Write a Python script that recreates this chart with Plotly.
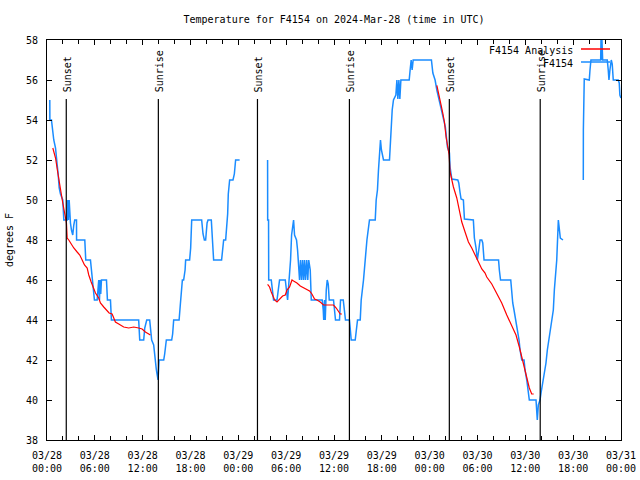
import pandas as pd
import plotly.graph_objects as go

START = pd.Timestamp("2024-03-28 00:00")

# Observations F4154 (hours since 03/28 00:00 UTC, degrees F)
obs1_h = [0.35, 0.36, 0.56, 0.73, 0.85, 1.07, 1.15, 1.28, 1.40, 1.53, 1.69, 1.82, 1.98, 2.11, 2.53, 2.61, 2.69, 2.78, 2.86,
          2.94, 3.07, 3.23, 3.36, 3.48, 3.70, 3.71, 4.74, 4.86, 5.45, 5.58, 5.70, 5.95, 6.29, 6.42, 6.49, 6.58, 6.67,
          6.74, 6.83, 6.95, 7.46, 7.58, 7.96, 8.08, 11.50, 11.63, 12.13, 12.26, 12.51, 12.88, 13.01, 13.13, 13.38,
          13.56, 13.72, 13.85, 13.93, 14.06, 14.64, 14.76, 14.97, 15.64, 15.76, 15.89, 16.57, 16.73, 16.85, 16.98,
          17.14, 17.32, 17.39, 17.89, 18.02, 18.15, 19.40, 19.57, 19.74, 19.90, 20.08, 20.20, 20.61, 20.74, 20.90,
          21.90, 22.03, 22.16, 22.41, 22.53, 22.66, 22.74, 22.91, 23.33, 23.50, 23.66, 24.16]
obs1_t = [55.0, 54.0, 54.0, 53.4, 53.0, 52.6, 52.1, 51.75, 51.3, 50.6, 50.3, 50.1, 50.0, 49.0, 49.0, 50.0, 49.0, 50.0, 48.85,
          48.85, 48.5, 48.25, 48.75, 49.0, 49.0, 48.0, 48.0, 47.0, 47.0, 46.5, 46.0, 45.0, 45.0, 45.5, 46.0, 45.0, 46.0,
          45.3, 46.0, 46.0, 46.0, 45.0, 45.0, 44.0, 44.0, 43.0, 43.0, 43.6, 44.0, 44.0, 43.3, 43.0, 42.75,
          42.0, 41.5, 41.2, 41.0, 42.0, 42.0, 42.3, 43.0, 43.0, 43.3, 44.0, 44.0, 44.8, 45.5, 46.0,
          46.0, 46.5, 47.0, 47.0, 47.6, 49.0, 49.0, 48.3, 48.0, 48.0, 48.85, 49.0, 49.0, 48.3, 47.0,
          47.0, 47.7, 48.0, 48.0, 48.6, 49.3, 50.3, 51.0, 51.0, 51.3, 52.0, 52.0]

obs2_h = [27.67, 27.68, 27.79, 27.81, 28.13, 28.26, 28.42, 28.85, 29.17, 29.89, 30.01, 30.18, 30.30, 30.55, 30.68, 30.80,
          30.93, 31.05, 31.30, 31.43, 31.55, 31.68, 31.80, 31.93, 32.06, 32.18, 32.31, 32.43, 32.58, 32.71, 32.83,
          32.96, 33.02, 33.15, 34.52, 34.65, 34.71, 34.81, 34.90, 35.03, 35.15, 35.28, 35.40, 35.94, 36.03, 36.19,
          36.69, 36.82, 37.16, 37.28, 37.44, 37.94, 38.03, 38.16, 38.66, 38.78, 38.95, 39.29, 39.41, 39.70, 39.91,
          40.13, 40.45, 41.17, 41.29, 41.45, 41.58, 41.70, 41.83, 41.95, 42.21, 42.96, 43.05, 43.17, 43.30, 43.46,
          43.76, 43.89, 44.01, 44.14, 44.26, 44.39, 44.71, 45.43, 45.55, 45.68, 45.80, 45.93, 46.30, 48.22, 48.40,
          48.68, 48.90, 49.19, 49.52, 49.72, 49.97, 50.23, 50.48, 50.56, 50.69, 50.78, 51.53, 51.65, 51.82, 51.94,
          52.23, 52.36, 53.48, 53.61, 53.82, 53.98, 54.16, 54.32, 54.54, 54.66, 54.82, 56.64, 56.74, 56.89, 58.17,
          58.30, 58.42, 58.58, 58.75, 58.92, 59.05, 59.21, 59.34, 59.55, 59.84, 59.96, 60.18, 60.38, 60.50, 61.34,
          61.43, 61.50, 61.63, 61.84, 61.97, 62.18, 62.38, 62.59, 62.76, 62.93, 63.10, 63.31, 63.51, 63.64, 63.81,
          63.94, 64.14, 64.26, 64.39, 64.72]
obs2_t = [52.0, 49.0, 49.0, 46.0, 46.0, 45.5, 45.0, 45.0, 46.0, 46.0, 45.5, 45.0, 45.65, 47.0, 48.25, 48.75,
          49.0, 48.25, 48.0, 47.5, 46.5, 46.0, 47.0, 46.0, 47.0, 46.0, 47.0, 46.0, 47.0, 46.0, 47.0,
          46.5, 46.5, 45.0, 45.0, 44.5, 44.0, 45.0, 44.0, 45.5, 46.0, 45.8, 45.0, 45.0, 44.5, 44.0,
          44.0, 45.0, 45.0, 44.5, 44.0, 44.0, 43.3, 43.0, 43.0, 43.5, 44.0, 44.0, 45.0, 46.0, 47.0,
          48.0, 49.0, 49.0, 50.0, 50.5, 51.5, 52.5, 53.0, 52.5, 52.0, 52.0, 52.75, 53.5, 54.5, 55.0,
          55.25, 56.0, 55.05, 56.0, 55.05, 56.0, 56.0, 56.0, 56.5, 57.0, 56.5, 57.0, 57.0, 57.0, 56.35,
          56.0, 55.5, 55.0, 54.35, 54.0, 53.65, 52.65, 52.35, 51.65, 51.25, 51.05, 51.0, 50.85, 50.35, 50.05,
          50.0, 49.05, 49.0, 48.1, 47.6, 47.0, 47.5, 48.0, 48.0, 47.85, 47.0, 47.0, 46.5, 46.0, 46.0,
          45.35, 44.85, 44.5, 44.1, 43.85, 43.5, 43.0, 42.5, 42.0, 42.0, 41.5, 41.0, 40.5, 40.0, 40.0,
          39.35, 39.0, 39.75, 40.0, 40.35, 40.85, 41.35, 41.85, 42.5, 43.0, 43.5, 44.0, 44.5, 45.5, 46.5,
          47.0, 49.0, 48.5, 48.1, 48.0]

obs3_h = [67.27, 67.28, 67.39, 68.02, 68.11, 68.23, 69.45, 69.49, 69.55, 69.61, 69.70, 70.28, 70.40, 70.49, 70.61,
          70.78, 70.90, 71.03, 71.65, 71.78, 71.86, 71.99]
obs3_t = [51.0, 53.5, 56.05, 56.0, 56.5, 57.0, 57.0, 58.0, 57.0, 58.0, 57.0, 57.0, 56.5, 56.0, 56.5,
          57.0, 56.8, 56.0, 56.0, 55.85, 55.25, 55.1]

# Analysis F4154
ana1_h = [0.73, 1.07, 1.38, 1.78, 1.98, 2.44, 2.53, 2.73, 2.94, 3.36, 3.78, 4.11, 4.41, 4.70, 5.04, 5.24, 5.54, 5.79,
          6.08, 6.49, 6.70, 7.12, 7.54, 7.79, 8.17, 8.58, 9.00, 9.62, 10.25, 10.88, 11.50, 11.93, 12.34, 12.76, 12.97]
ana1_t = [52.6, 52.1, 51.3, 50.25, 49.85, 48.85, 48.1, 48.0, 47.85, 47.6, 47.4, 47.25, 47.0, 46.75, 46.6, 46.25, 45.9,
          45.6, 45.35, 45.1, 44.85, 44.65, 44.45, 44.35, 44.3, 43.9, 43.8, 43.65, 43.6, 43.65, 43.6, 43.55, 43.4,
          43.3, 43.25]
ana2_h = [27.67, 27.92, 28.13, 28.42, 28.55, 28.85, 29.17, 29.55, 29.89, 30.10, 30.43, 30.73, 30.93, 31.35, 31.77,
          32.18, 32.61, 32.93, 33.23, 33.56, 33.86, 34.27, 34.69, 35.31, 35.94, 36.28, 36.57, 36.78, 36.99]
ana2_t = [45.78, 45.65, 45.4, 45.15, 45.0, 44.9, 45.05, 45.2, 45.25, 45.5, 45.65, 46.0, 45.95, 45.85, 45.7,
          45.6, 45.5, 45.45, 45.3, 45.05, 45.0, 44.9, 44.75, 44.75, 44.75, 44.6, 44.4, 44.3, 44.3]
ana3_h = [48.90, 49.19, 49.44, 49.65, 49.85, 50.06, 50.23, 50.44, 50.56, 50.78, 50.98, 51.40, 51.73, 52.03, 52.44,
          52.86, 53.28, 53.70, 54.11, 54.54, 54.95, 55.16, 55.79, 56.42, 57.04, 57.67, 58.30, 58.83, 59.25, 59.55,
          59.96, 60.25, 60.50, 60.80, 61.05]
ana3_t = [55.73, 55.1, 54.73, 54.33, 53.9, 53.15, 52.65, 52.25, 51.4, 51.0, 50.65, 50.1, 49.5, 48.9, 48.4,
          47.9, 47.6, 47.25, 46.85, 46.55, 46.35, 46.15, 45.8, 45.35, 44.85, 44.25, 43.75, 43.25, 42.65, 42.15,
          41.5, 41.0, 40.6, 40.3, 40.3]

# Sun events
event_times = ["2024-03-28 02:25", "2024-03-28 13:58", "2024-03-29 02:24",
               "2024-03-29 13:56", "2024-03-30 02:28", "2024-03-30 13:52"]
event_labels = ["Sunset", "Sunrise", "Sunset", "Sunrise", "Sunset", "Sunrise"]
event_top = 55.05

y_ticks = list(range(38, 59, 2))
title_text = "Temperature for F4154 on 2024-Mar-28 (time in UTC)"
FONT = "DejaVu Sans Mono"


def join(segs):
    xs, ys = [], []
    for hs, ts in segs:
        if xs:
            xs.append(None)
            ys.append(None)
        xs += [START + pd.Timedelta(hours=h) for h in hs]
        ys += ts
    return xs, ys


ox, oy = join([(obs1_h, obs1_t), (obs2_h, obs2_t), (obs3_h, obs3_t)])
ax_, ay_ = join([(ana1_h, ana1_t), (ana2_h, ana2_t), (ana3_h, ana3_t)])

BLUE = "#1a8cff"
RED = "#ff0000"

fig = go.Figure()
fig.add_trace(go.Scatter(x=ox, y=oy, mode="lines", line=dict(color=BLUE, width=1.5),
                         name="F4154", showlegend=False, connectgaps=False))
fig.add_trace(go.Scatter(x=ax_, y=ay_, mode="lines", line=dict(color=RED, width=1.2),
                         name="F4154 Analysis", showlegend=False, connectgaps=False))

for t, lab in zip(event_times, event_labels):
    fig.add_shape(type="line", xref="x", yref="y", x0=t, x1=t, y0=38, y1=event_top,
                  line=dict(color="black", width=1.2))
    fig.add_annotation(x=t, y=event_top, xref="x", yref="y", text=lab, textangle=-90,
                       showarrow=False, xanchor="center", yanchor="bottom", yshift=5, xshift=1,
                       font=dict(family=FONT, size=10, color="black"))

# legend (gnuplot style: text right, sample on the right)
PL, PR, PT, PB = 47, 621, 40, 440
leg = [("F4154 Analysis", RED, 50), ("F4154", BLUE, 63)]
for txt, col, ypx in leg:
    yp = 1 - (ypx - PT) / (PB - PT)
    fig.add_annotation(x=(575 - PL) / (PR - PL), y=yp, xref="paper", yref="paper", text=txt,
                       showarrow=False, xanchor="right", yanchor="middle",
                       font=dict(family=FONT, size=10, color="black"))
    fig.add_shape(type="line", xref="paper", yref="paper", x0=(581 - PL) / (PR - PL), x1=(610 - PL) / (PR - PL),
                  y0=yp + 1 / 400, y1=yp + 1 / 400, line=dict(color=col, width=1.5))

fig.update_layout(
    width=640, height=480,
    margin=dict(l=PL, r=640 - PR, t=PT, b=480 - PB, autoexpand=False),
    paper_bgcolor="white", plot_bgcolor="white",
    font=dict(family=FONT, size=10, color="black"),
    title=dict(text=title_text, x=0.5, xref="paper", xanchor="center",
               y=1 - 19 / 480, yref="container", yanchor="middle",
               font=dict(family=FONT, size=10, color="black")),
)
fig.update_xaxes(
    type="date", range=["2024-03-28 00:00", "2024-03-31 00:00"], automargin=False,
    dtick=6 * 3600 * 1000, tick0="2024-03-28 00:00", tickformat="%m/%d<br>%H:%M",
    ticks="inside", ticklen=5, tickcolor="black", showline=True, linecolor="black", linewidth=1,
    mirror="allticks", showgrid=False, zeroline=False, ticklabelstandoff=6,
    minor=dict(dtick=2 * 3600 * 1000, ticks="inside", ticklen=4, tickcolor="black", showgrid=False),
    tickfont=dict(family=FONT, size=10, color="black"),
)
fig.update_yaxes(
    range=[38, 58], tickvals=y_ticks, ticks="inside", ticklen=5, tickcolor="black", automargin=False,
    showline=True, linecolor="black", linewidth=1, mirror="allticks", showgrid=False, zeroline=False,
    ticklabelstandoff=6,
    title=dict(text="degrees F", font=dict(family=FONT, size=10, color="black"), standoff=10),
    tickfont=dict(family=FONT, size=10, color="black"),
)

fig.write_html("out.html")
